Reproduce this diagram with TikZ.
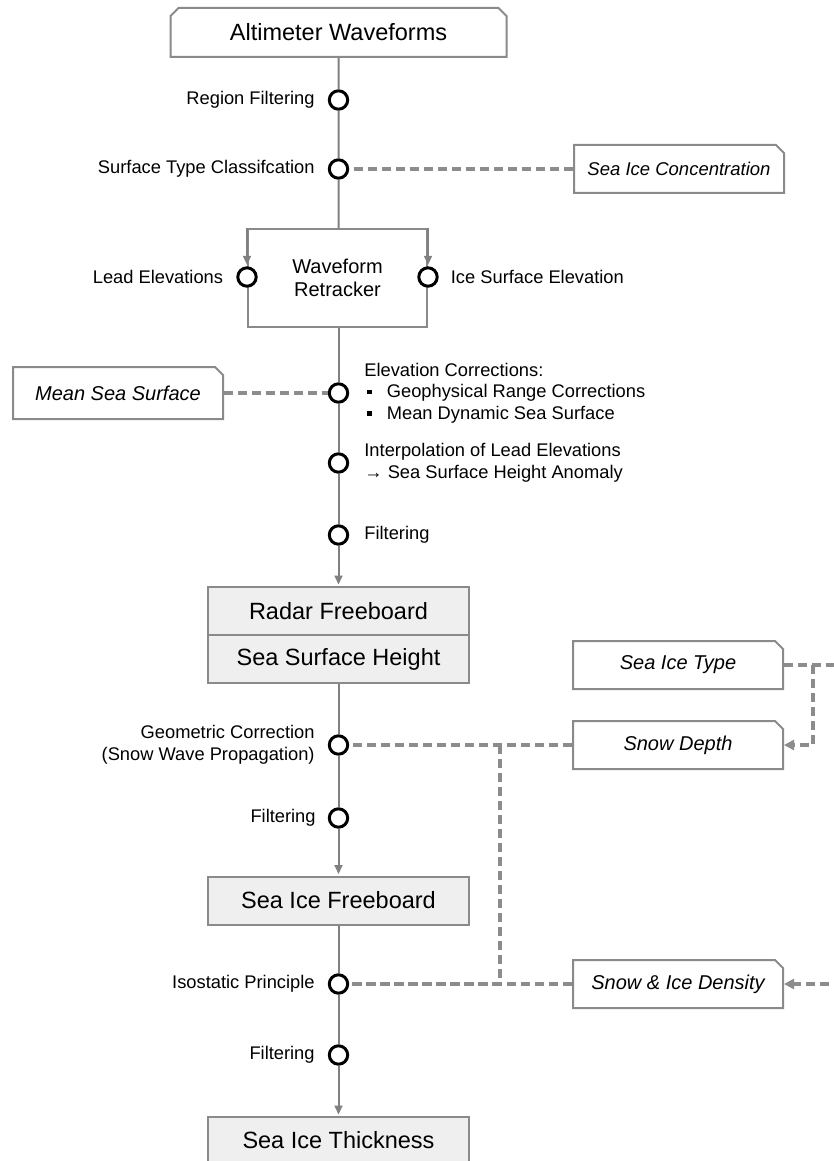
\documentclass[tikz,border=0pt]{standalone}
\usepackage{fontspec}
\setmainfont{Liberation Sans}
\usetikzlibrary{positioning,arrows.meta,shapes.misc}

\definecolor{linegray}{HTML}{808080}
\definecolor{dashgray}{HTML}{8C8C8C}
\definecolor{boxgray}{HTML}{8A8A8A}
\definecolor{boxfill}{HTML}{EFEFF0}

\tikzset{
    flow/.style={draw=linegray, line width=2pt},
    arr/.style={flow, -{Triangle[length=9pt,width=8pt]}, shorten >=1.5pt},
    feed/.style={draw=dashgray, line width=3.5pt, dash pattern=on 9pt off 5pt},
    feedarr/.style={feed, -{Triangle[length=10pt,width=10pt]}},
    stepdot/.style={circle, draw=black, line width=3pt, fill=white, minimum size=18.4pt, inner sep=0pt},
    lbl/.style={font=\fontsize{18.3}{21.5}\selectfont, inner sep=0pt},
    mainbox/.style={draw=boxgray, line width=2pt, fill=boxfill, minimum width=261pt, minimum height=48pt, inner sep=0pt, font=\fontsize{23.5}{28}\selectfont},
    databox/.style={chamfered rectangle, chamfered rectangle corners=north east, chamfered rectangle xsep=4pt, chamfered rectangle ysep=4pt, draw=boxgray, line width=2pt, fill=white, minimum width=210pt, minimum height=48pt, inner sep=0pt, font=\fontsize{20}{24}\selectfont\itshape}
}

\begin{document}
\begin{tikzpicture}[x=1pt, y=-1pt]

    \useasboundingbox[fill=white] (0,0) rectangle (833,1161);

    % Input waveforms
    \node [chamfered rectangle, chamfered rectangle corners={north west,north east}, chamfered rectangle xsep=4pt, chamfered rectangle ysep=4pt, draw=boxgray, line width=2pt, fill=white, minimum width=336pt, minimum height=49pt, inner sep=0pt, font=\fontsize{23.5}{28}\selectfont] (alt) at (338.5,32.5) {Altimeter Waveforms};

    % Pre-processing steps
    \node [stepdot] (region) at (338.5,100) {};
    \node [lbl, left=13pt of region] (regionlbl) {Region Filtering};
    \node [stepdot] (surftype) at (338.5,169) {};
    \node [lbl, left=13pt of surftype] (surftypelbl) {Surface Type Classifcation};
    \node [databox, font=\fontsize{18.5}{22}\selectfont\itshape] (sic) at (679,169) {Sea Ice Concentration};

    % Retracker
    \node [draw=boxgray, line width=2pt, fill=white, minimum width=179pt, minimum height=98pt, inner sep=0pt, align=center, font=\fontsize{20}{23}\selectfont] (retracker) at (337.5,278) {Waveform\\Retracker};
    \node [stepdot] (leadel) at (retracker.west |- 0,277) {};
    \node [lbl, left=13pt of leadel] (leadellbl) {Lead Elevations};
    \node [stepdot] (iceel) at (retracker.east |- 0,277) {};
    \node [lbl, right=12pt of iceel] (iceellbl) {Ice Surface Elevation};

    % Corrections
    \node [stepdot] (elevcorr) at (338.5,393) {};
    \node [lbl, right=15pt of elevcorr, align=left] (elevcorrlbl) {Elevation Corrections:\\
        \hspace*{3pt}\raisebox{3.5pt}{\rule{4.5pt}{4.5pt}}\hspace{15pt}Geophysical Range Corrections\\
        \hspace*{3pt}\raisebox{3.5pt}{\rule{4.5pt}{4.5pt}}\hspace{15pt}Mean Dynamic Sea Surface};
    \node [databox, minimum height=52pt] (mss) at (118,393) {Mean Sea Surface};
    \node [stepdot] (interp) at (338.5,463) {};
    \node [lbl, right=15pt of interp, align=left] (interplbl) {Interpolation of Lead Elevations\\→ Sea Surface Height Anomaly};
    \node [stepdot] (filtone) at (338.5,535) {};
    \node [lbl, right=15pt of filtone] (filtonelbl) {Filtering};

    % Radar freeboard
    \node [mainbox] (radarfb) at (338.5,611) {Radar Freeboard};
    \node [mainbox] (ssh) at (338.5,659) {Sea Surface Height};

    % Auxiliary data
    \node [databox] (icetype) at (678,665) {Sea Ice Type};
    \node [databox] (snowdepth) at (678,745) {Snow Depth};
    \node [databox] (density) at (678,984) {Snow \& Ice Density};

    % Freeboard conversion
    \node [stepdot] (geocorr) at (338.5,745) {};
    \node [lbl, left=13pt of geocorr, align=right] (geocorrlbl) {Geometric Correction\\(Snow Wave Propagation)};
    \node [stepdot] (filttwo) at (338.5,818) {};
    \node [lbl, left=12pt of filttwo] (filttwolbl) {Filtering};
    \node [mainbox] (seaicefb) at (338.5,900.5) {Sea Ice Freeboard};

    % Thickness conversion
    \node [stepdot] (isostatic) at (338.5,984) {};
    \node [lbl, left=13pt of isostatic] (isostaticlbl) {Isostatic Principle};
    \node [stepdot] (filtthree) at (338.5,1055) {};
    \node [lbl, left=13pt of filtthree] (filtthreelbl) {Filtering};
    \node [mainbox, minimum height=47pt] (thickness) at (338.5,1140.5) {Sea Ice Thickness};

    % Main processing chain
    \draw [flow] (alt) -- (region) -- (surftype) -- (alt.south |- retracker.north);
    \draw [arr] (retracker.north west) -- (leadel);
    \draw [arr] (retracker.north east) -- (iceel);
    \draw [flow] (retracker.south -| elevcorr) -- (elevcorr) -- (interp) -- (filtone);
    \draw [arr] (filtone) -- (filtone |- radarfb.north);
    \draw [flow] (ssh.south -| geocorr) -- (geocorr) -- (filttwo);
    \draw [arr] (filttwo) -- (filttwo |- seaicefb.north);
    \draw [flow] (seaicefb.south -| isostatic) -- (isostatic) -- (filtthree);
    \draw [arr] (filtthree) -- (filtthree |- thickness.north);

    % Auxiliary inputs
    \coordinate (split) at (500,745);
    \coordinate (typeturn) at (813,665);
    \coordinate (edgetop) at (850,665);
    \draw [feed] (sic.west) -- (surftype);
    \draw [feed] (mss.east) -- (elevcorr);
    \draw [feed] (snowdepth.west) -- (geocorr);
    \draw [feed] (split) |- (isostatic);
    \draw [feed] (density.west) -- (isostatic);
    \draw [feedarr] (icetype.east) -- (edgetop) |- (density.east);
    \draw [feedarr] (typeturn) |- (snowdepth.east);

\end{tikzpicture}
\end{document}
